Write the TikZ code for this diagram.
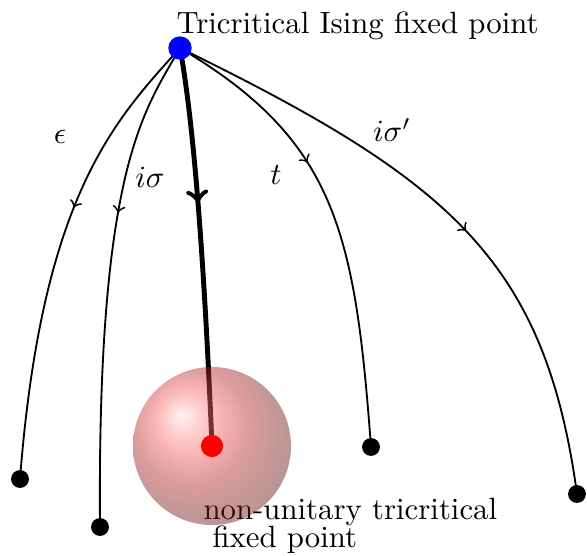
\documentclass[tikz,border=0pt]{standalone}
\usetikzlibrary{decorations.markings}
\begin{document}
\begin{tikzpicture}[x=0.325pt,y=-0.325pt,
  flow/.style={semithick},
  mainflow/.style={line width=1.6pt},
  endpt/.style={circle,fill=black,inner sep=0pt,minimum size=5.8pt},
  arrowat/.style={postaction={decorate},decoration={markings,mark=at position #1 with {\arrow{>}}}},
  lbl/.style={inner sep=0pt}]
\useasboundingbox (0,0) rectangle (587,556);
% nodes (positions)
\coordinate (topc) at (180,48);
\coordinate (redc) at (212,446);
\node[endpt] (e1) at (20,479) {};
\node[endpt] (e2) at (100,527) {};
\node[endpt] (e3) at (371,447) {};
\node[endpt] (e4) at (577,494) {};
% flows
\draw[flow,arrowat=0.41] (topc) .. controls (115,120) and (42,195) .. (e1.center);
\draw[flow,arrowat=0.36] (topc) .. controls (145,110) and (97,165) .. (e2.center);
\draw[mainflow,arrowat=0.39] (topc) .. controls (195,130) and (205,280) .. (redc);
\draw[flow,arrowat=0.37] (topc) .. controls (335,140) and (355,230) .. (e3.center);
\draw[flow,arrowat=0.54] (topc) .. controls (450,180) and (545,260) .. (e4.center);
% labels
\node[lbl] (leps) at (60,137) {$\epsilon$};
\node[lbl] (lis) at (150,177) {$i\sigma$};
\node[lbl] (lt) at (276,175) {$t$};
\node[lbl] (lisp) at (392,130) {$i\sigma'$};
\node[lbl,anchor=base west] (title) at (176,34) {Tricritical Ising fixed point};
\node[lbl,anchor=base west,align=left] (nutext) at (203,548) {non-unitary tricritical\\[-2.6pt]\hspace{2.9pt}fixed point};
% sphere
\shade[ball color=red!80!white,opacity=0.45] (redc) circle[radius=79];
\node[circle,fill=red,inner sep=0pt,minimum size=7.2pt] (red) at (redc) {};
\node[circle,fill=blue,inner sep=0pt,minimum size=7.6pt] (top) at (topc) {};
\end{tikzpicture}
\end{document}
